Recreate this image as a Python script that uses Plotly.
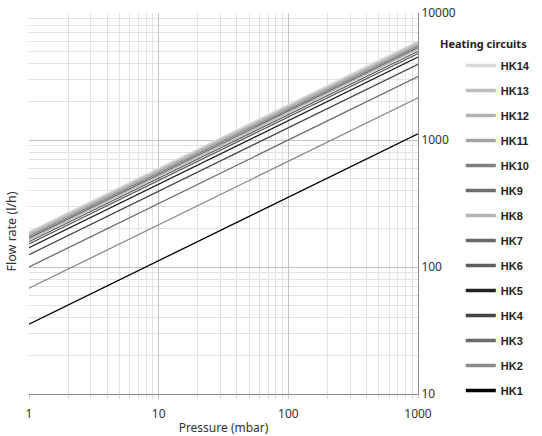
import plotly.graph_objects as go

circuits = ["HK1", "HK2", "HK3", "HK4", "HK5", "HK6", "HK7", "HK8", "HK9", "HK10", "HK11", "HK12", "HK13", "HK14"]
pressure = [1, 1000]
flow_at_1 = [35.5, 68, 100, 125, 142, 152, 158, 164, 169, 174, 178, 182, 186, 190]
flow_at_1000 = [1120, 2150, 3160, 3950, 4500, 4800, 5000, 5200, 5350, 5500, 5630, 5750, 5880, 6000]
colors = ["#000000", "#8a8a8a", "#6a6a6a", "#444444", "#222222", "#5e5e5e", "#686868",
          "#b4b4b4", "#6e6e6e", "#808080", "#a4a4a4", "#b2b2b2", "#bdbdbd", "#d9d9d9"]
x_ticks = [1, 10, 100, 1000]
y_ticks = [10, 100, 1000, 10000]
x_minor = [m * d for d in (1, 10, 100) for m in range(2, 10)]
y_minor = [m * d for d in (10, 100, 1000) for m in range(2, 10)]

fig = go.Figure()
for name, a, b, c in zip(circuits, flow_at_1, flow_at_1000, colors):
    fig.add_trace(go.Scatter(x=pressure, y=[a, b], mode="lines", name=name,
                             line=dict(color=c, width=1.3), showlegend=False,
                             hoverinfo="name"))
# legend entries (thicker lines), HK14 on top
for name, c in zip(circuits[::-1], colors[::-1]):
    fig.add_trace(go.Scatter(x=[None], y=[None], mode="lines", name=name,
                             legendgroup=name, line=dict(color=c, width=3.5)))

grid_major = "#c4c4c4"
grid_minor = "#e2e2e2"
tickfont = dict(family="Noto Sans", size=12, color="#333333")

fig.update_layout(
    width=542, height=436,
    margin=dict(l=29, r=124, t=13, b=42, autoexpand=False),
    paper_bgcolor="white", plot_bgcolor="white",
    showlegend=True,
    legend=dict(x=1.11, xanchor="left", y=0.90, yanchor="top",
                font=dict(family="Liberation Sans", size=11, color="#222222", weight="bold"),
                tracegroupgap=6, traceorder="grouped",
                bgcolor="rgba(0,0,0,0)", borderwidth=0),
    xaxis=dict(type="log", range=[0, 3], showline=True, linecolor="#8c8c8c", linewidth=1,
               showgrid=True, gridcolor=grid_major, gridwidth=1,
               tickmode="array", tickvals=x_ticks, ticktext=[str(v) for v in x_ticks],
               ticks="outside", ticklen=4, tickcolor="#cccccc", ticklabelstandoff=5,
               minor=dict(tickmode="array", tickvals=x_minor, showgrid=True,
                          gridcolor=grid_minor, ticks="outside", ticklen=4,
                          tickcolor="#dddddd"),
               tickfont=tickfont, zeroline=False,
               title=dict(text="Pressure (mbar)", font=dict(family="Noto Sans", size=12, color="#333333"),
                          standoff=2)),
    yaxis=dict(type="log", range=[1, 4], side="right", showline=True, linecolor="#8c8c8c",
               linewidth=1, showgrid=True, gridcolor=grid_major, gridwidth=1,
               tickmode="array", tickvals=y_ticks, ticktext=[str(v) for v in y_ticks],
               ticks="", minor=dict(tickmode="array", tickvals=y_minor, showgrid=True,
                                    gridcolor=grid_minor),
               tickfont=tickfont, zeroline=False),
    annotations=[
        dict(text="Flow rate (l/h)", xref="paper", yref="paper", x=-0.045, y=0.428,
             xanchor="center", yanchor="middle", textangle=-90, showarrow=False,
             font=dict(family="Noto Sans", size=12.5, color="#333333")),
        dict(text="<b>Heating circuits</b>", xref="paper", yref="paper", x=1.052, y=0.92,
             xanchor="left", yanchor="middle", showarrow=False,
             font=dict(family="Noto Sans", size=11, color="#222222")),
    ],
)

fig.write_html("out.html", config={"displayModeBar": False},
               post_script="document.body.style.margin='0';")
